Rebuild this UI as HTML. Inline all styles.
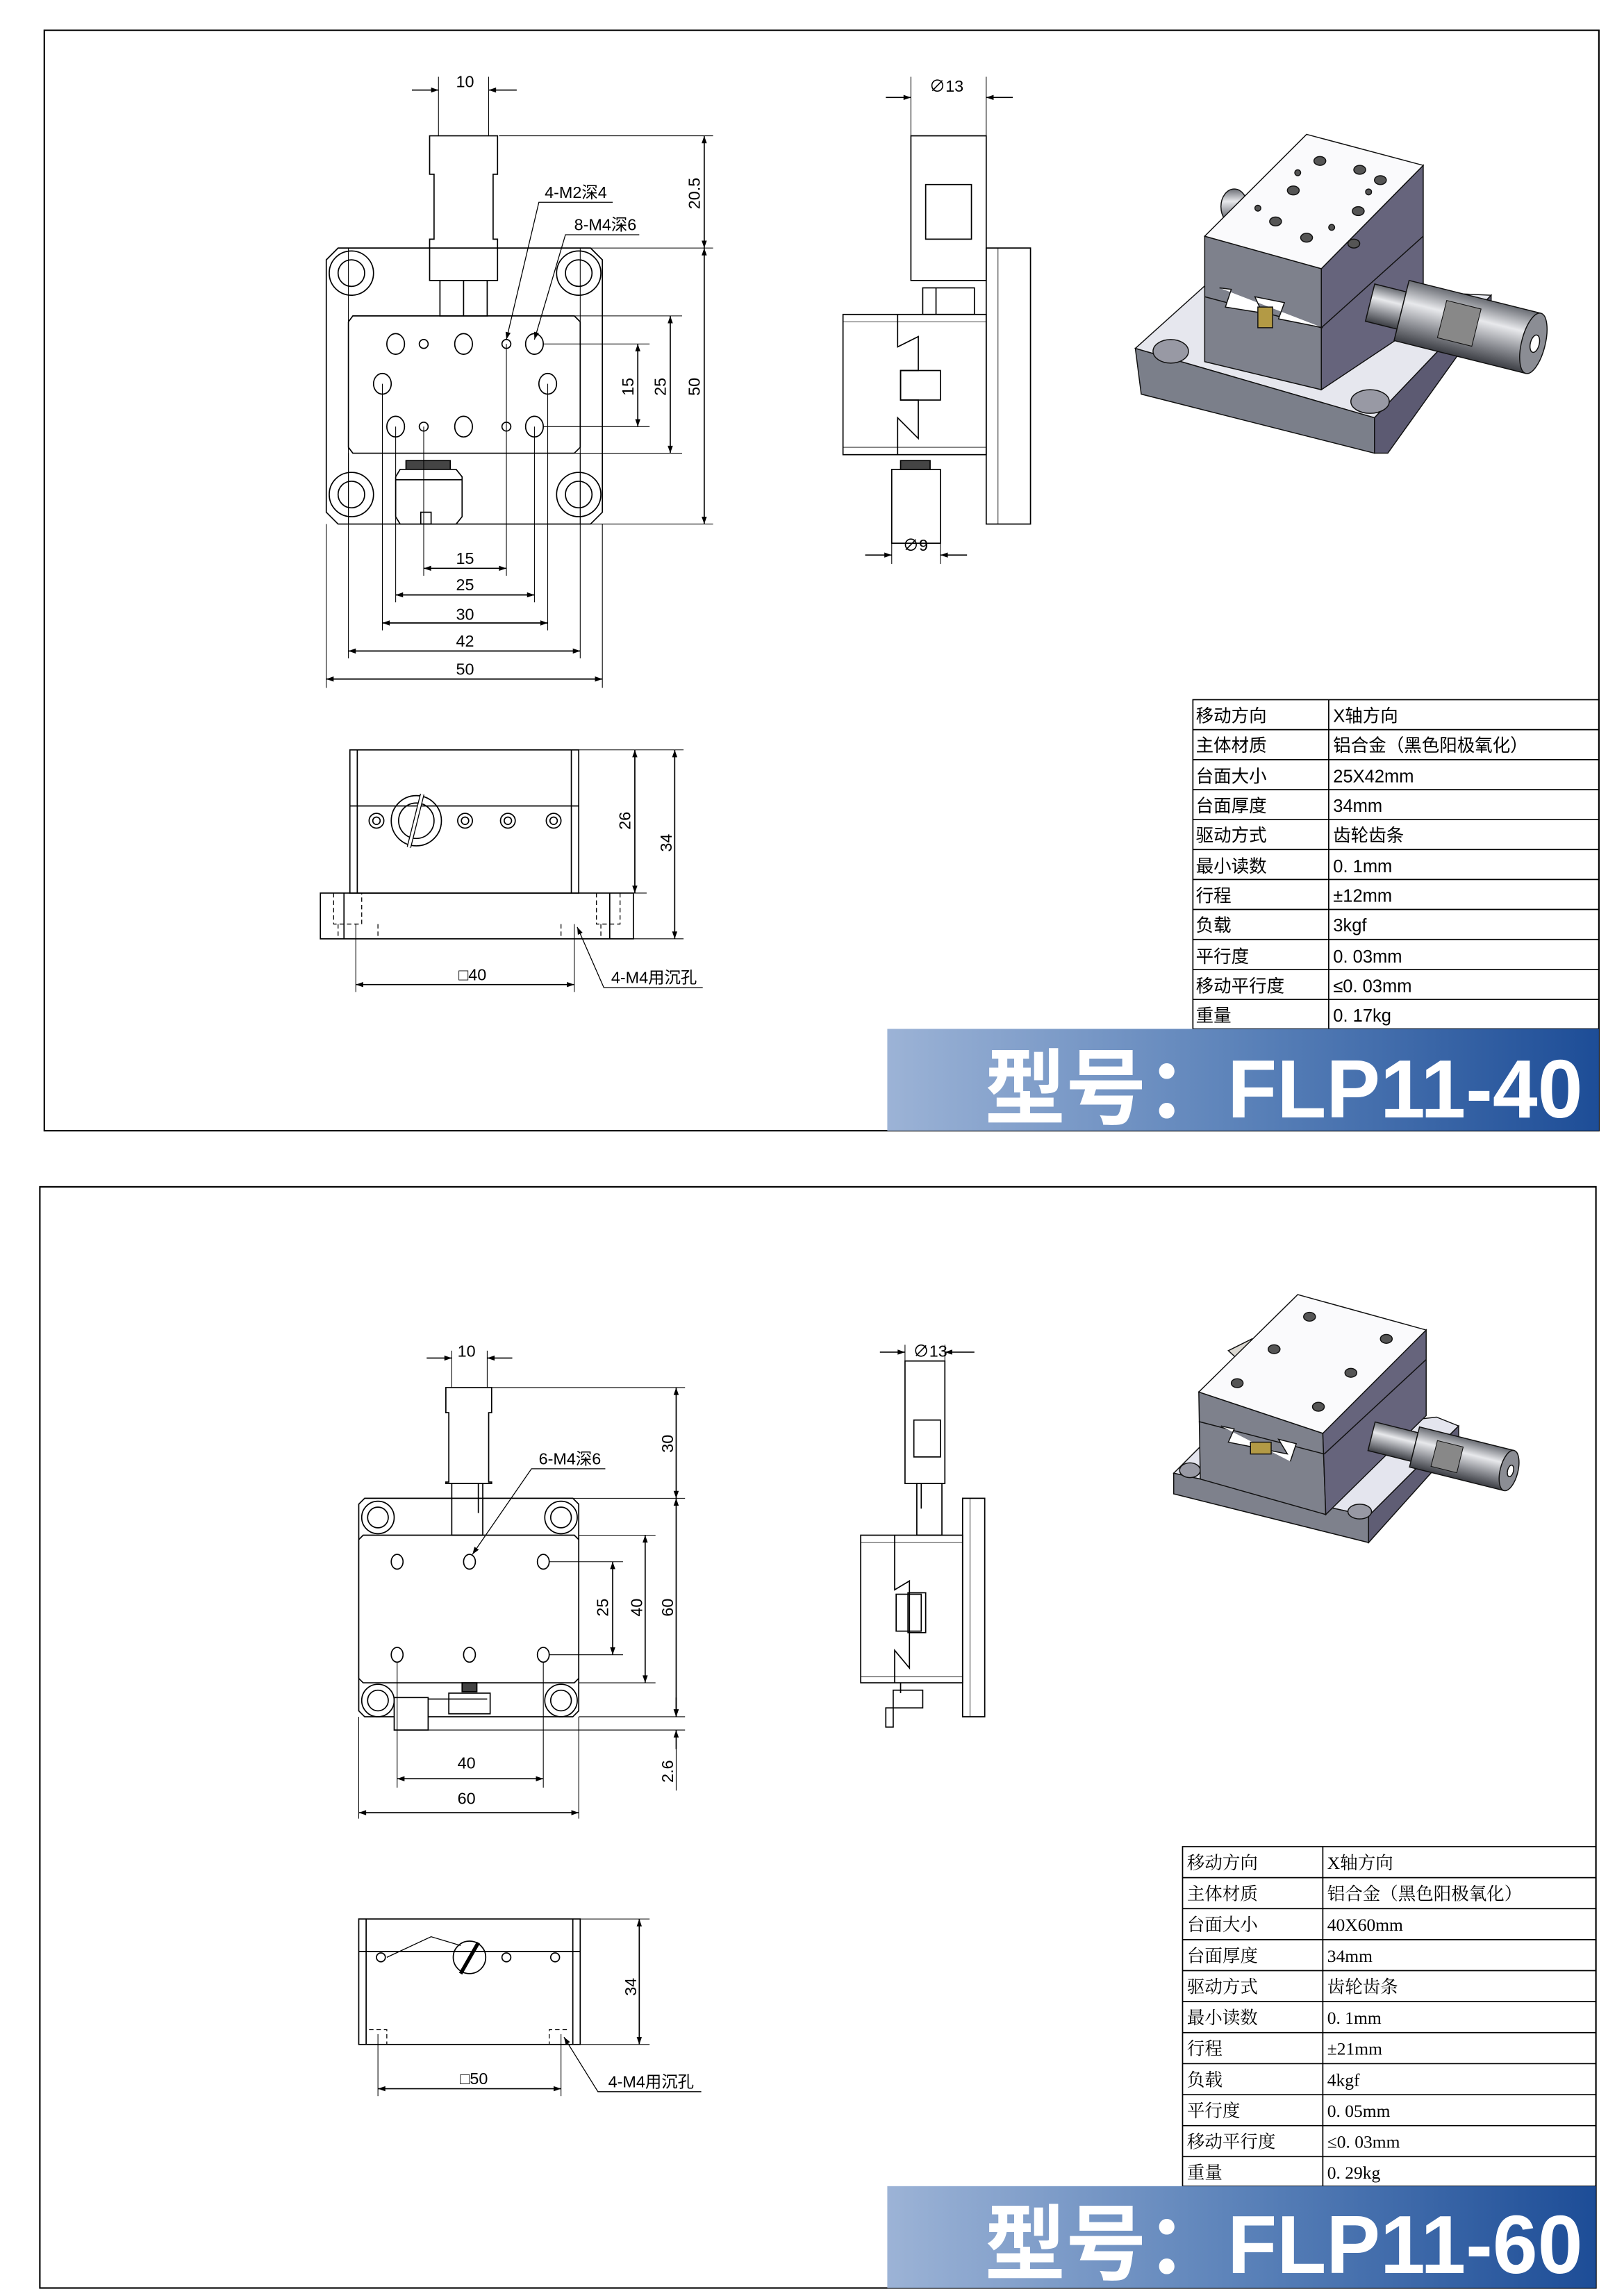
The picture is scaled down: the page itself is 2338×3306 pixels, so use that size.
<!DOCTYPE html>
<html><head><meta charset="utf-8"><style>
html,body{margin:0;padding:0;background:#fff}
svg{display:block}
text{font-family:"Liberation Sans","Noto Sans CJK SC",sans-serif}
</style></head><body>
<svg width="2338" height="3306" viewBox="0 0 1100 1555.4" xmlns="http://www.w3.org/2000/svg">
<defs>
<marker id="a" viewBox="0 0 10 10" refX="10" refY="5" markerWidth="9" markerHeight="5" orient="auto-start-reverse" markerUnits="userSpaceOnUse"><path d="M0,1.5L10,5L0,8.5z" fill="#000"/></marker>
<linearGradient id="bg" x1="0" x2="1" y1="0" y2="0"><stop offset="0" stop-color="#9cb3d6"/><stop offset="0.5" stop-color="#5b82b9"/><stop offset="1" stop-color="#1d4d97"/></linearGradient>
<linearGradient id="cyl" x1="0" x2="0" y1="0" y2="1"><stop offset="0" stop-color="#6a6d74"/><stop offset="0.35" stop-color="#e8e9ec"/><stop offset="0.7" stop-color="#8a8c92"/><stop offset="1" stop-color="#3c3e44"/></linearGradient>
</defs>
<g fill="none" stroke="#000" stroke-width="0.8">
<!-- frames -->
<rect x="30" y="20.5" width="1053" height="745.5" stroke-width="1"/>
<rect x="27" y="804" width="1054" height="746" stroke-width="1"/>

<!-- ===== FRAME 1 TOP VIEW ===== -->
<path d="M229,168H400L408,176V347L400,355H229L221,347V176Z"/>
<line x1="236" y1="168" x2="236" y2="355" stroke-width="0.5"/><line x1="393" y1="168" x2="393" y2="355" stroke-width="0.5"/>
<circle cx="238" cy="185" r="15"/><circle cx="238" cy="185" r="9"/>
<circle cx="392" cy="185" r="15"/><circle cx="392" cy="185" r="9"/>
<circle cx="238" cy="335" r="15"/><circle cx="238" cy="335" r="9"/>
<circle cx="392" cy="335" r="15"/><circle cx="392" cy="335" r="9"/>
<path d="M239,214H389L393,218V303L389,307H239L236,303V218Z" fill="#fff"/>
<path d="M291,92H337V118H334V162H337V190H291V162H294V118H291Z"/>
<rect x="298" y="190" width="32" height="24"/><line x1="314" y1="190" x2="314" y2="214"/>
<g>
<ellipse cx="268" cy="233" rx="6" ry="7"/><circle cx="287" cy="233" r="3"/><ellipse cx="314" cy="233" rx="6" ry="7"/><circle cx="343" cy="233" r="3"/><ellipse cx="362" cy="233" rx="6" ry="7"/>
<ellipse cx="259" cy="260" rx="6" ry="7"/><ellipse cx="371" cy="260" rx="6" ry="7"/>
<ellipse cx="268" cy="289" rx="6" ry="7"/><circle cx="287" cy="289" r="3"/><ellipse cx="314" cy="289" rx="6" ry="7"/><circle cx="343" cy="289" r="3"/><ellipse cx="362" cy="289" rx="6" ry="7"/>
</g>
<rect x="275" y="312" width="30" height="6" fill="#444"/>
<path d="M271,318H309L313,323V350L309,355H271L268,350V323Z" fill="#fff"/>
<line x1="268" y1="325" x2="313" y2="325"/><rect x="285" y="347" width="7" height="8"/>
<!-- dims f1 top -->
<line x1="297" y1="52" x2="297" y2="92" stroke-width="0.5"/><line x1="331" y1="52" x2="331" y2="92" stroke-width="0.5"/>
<line x1="279" y1="61" x2="297" y2="61" marker-end="url(#a)"/><line x1="350" y1="61" x2="331" y2="61" marker-end="url(#a)"/>
<line x1="338" y1="92" x2="483" y2="92" stroke-width="0.5"/><line x1="400" y1="168" x2="483" y2="168" stroke-width="0.5"/>
<line x1="389" y1="214" x2="462" y2="214" stroke-width="0.5"/><line x1="389" y1="307" x2="462" y2="307" stroke-width="0.5"/>
<line x1="368" y1="233" x2="440" y2="233" stroke-width="0.5"/><line x1="368" y1="289" x2="440" y2="289" stroke-width="0.5"/>
<line x1="400" y1="355" x2="483" y2="355" stroke-width="0.5"/>
<line x1="477" y1="92" x2="477" y2="168" marker-start="url(#a)" marker-end="url(#a)"/>
<line x1="477" y1="168" x2="477" y2="355" marker-start="url(#a)" marker-end="url(#a)"/>
<line x1="454" y1="214" x2="454" y2="307" marker-start="url(#a)" marker-end="url(#a)"/>
<line x1="432" y1="233" x2="432" y2="289" marker-start="url(#a)" marker-end="url(#a)"/>
<g stroke-width="0.5">
<line x1="287" y1="289" x2="287" y2="390"/><line x1="343" y1="233" x2="343" y2="390"/>
<line x1="268" y1="289" x2="268" y2="408"/><line x1="362" y1="289" x2="362" y2="408"/>
<line x1="259" y1="260" x2="259" y2="427"/><line x1="371" y1="260" x2="371" y2="427"/>
<line x1="236" y1="307" x2="236" y2="446"/><line x1="393" y1="307" x2="393" y2="446"/>
<line x1="221" y1="355" x2="221" y2="466"/><line x1="408" y1="355" x2="408" y2="466"/>
</g>
<line x1="287" y1="385" x2="343" y2="385" marker-start="url(#a)" marker-end="url(#a)"/>
<line x1="268" y1="403" x2="362" y2="403" marker-start="url(#a)" marker-end="url(#a)"/>
<line x1="259" y1="422" x2="371" y2="422" marker-start="url(#a)" marker-end="url(#a)"/>
<line x1="236" y1="441" x2="393" y2="441" marker-start="url(#a)" marker-end="url(#a)"/>
<line x1="221" y1="460" x2="408" y2="460" marker-start="url(#a)" marker-end="url(#a)"/>
<polyline points="415,137 365,137 343,230" stroke-width="0.6" marker-end="url(#a)"/>
<polyline points="433,159 383,159 362,230" stroke-width="0.6" marker-end="url(#a)"/>

<!-- ===== FRAME 1 SIDE VIEW ===== -->
<rect x="617" y="92" width="51" height="98"/><rect x="627" y="125" width="31" height="37"/>
<rect x="625" y="195" width="35" height="18"/><line x1="634" y1="195" x2="634" y2="213"/>
<rect x="668" y="168" width="30" height="187"/><rect x="668" y="168" width="8" height="187" stroke-width="0.4"/>
<rect x="571" y="213" width="97" height="95"/><line x1="571" y1="218" x2="668" y2="218" stroke-width="0.4"/><line x1="571" y1="303" x2="668" y2="303" stroke-width="0.4"/>
<polyline points="608,213 608,235 622,228 622,251 610,251 610,271 622,271 622,297 608,283 608,308"/>
<rect x="610" y="251" width="27" height="20"/>
<rect x="604" y="318" width="33" height="50"/><rect x="610" y="312" width="20" height="6" fill="#444"/>
<line x1="617" y1="52" x2="617" y2="92" stroke-width="0.5"/><line x1="668" y1="52" x2="668" y2="92" stroke-width="0.5"/>
<line x1="600" y1="66" x2="617" y2="66" marker-end="url(#a)"/><line x1="686" y1="66" x2="668" y2="66" marker-end="url(#a)"/>
<line x1="604" y1="368" x2="604" y2="382" stroke-width="0.5"/><line x1="637" y1="368" x2="637" y2="382" stroke-width="0.5"/>
<line x1="586" y1="376" x2="604" y2="376" marker-end="url(#a)"/><line x1="655" y1="376" x2="637" y2="376" marker-end="url(#a)"/>

<!-- ===== FRAME 1 FRONT VIEW ===== -->
<rect x="237" y="508" width="155" height="97"/><line x1="242" y1="508" x2="242" y2="605"/><line x1="387" y1="508" x2="387" y2="605"/>
<line x1="237" y1="546" x2="392" y2="546"/>
<circle cx="282" cy="556" r="17"/><circle cx="282" cy="556" r="12"/><path d="M277,574L286,538" stroke-width="3" stroke="#000"/><path d="M277,574L286,538" stroke-width="1.8" stroke="#fff"/>
<circle cx="255" cy="556" r="5"/><circle cx="255" cy="556" r="2.5"/>
<circle cx="315" cy="556" r="5"/><circle cx="315" cy="556" r="2.5"/>
<circle cx="344" cy="556" r="5"/><circle cx="344" cy="556" r="2.5"/>
<circle cx="375" cy="556" r="5"/><circle cx="375" cy="556" r="2.5"/>
<rect x="217" y="605" width="212" height="31"/><line x1="233" y1="605" x2="233" y2="636"/><line x1="413" y1="605" x2="413" y2="636"/>
<g stroke-dasharray="3,2" stroke-width="0.6"><polyline points="226,605 226,626 245,626 245,605"/><polyline points="420,605 420,626 404,626 404,605"/><polyline points="229,626 229,636"/><polyline points="256,626 256,636"/><polyline points="407,626 407,636"/><polyline points="380,626 380,636"/></g>
<line x1="392" y1="508" x2="463" y2="508" stroke-width="0.5"/><line x1="429" y1="605" x2="438" y2="605" stroke-width="0.5"/><line x1="429" y1="636" x2="463" y2="636" stroke-width="0.5"/>
<line x1="430" y1="508" x2="430" y2="605" marker-start="url(#a)" marker-end="url(#a)"/>
<line x1="457" y1="508" x2="457" y2="636" marker-start="url(#a)" marker-end="url(#a)"/>
<line x1="241" y1="626" x2="241" y2="672" stroke-width="0.5"/><line x1="389" y1="626" x2="389" y2="672" stroke-width="0.5"/>
<line x1="241" y1="667" x2="389" y2="667" marker-start="url(#a)" marker-end="url(#a)"/>
<polyline points="476,669 409,669 391,628" stroke-width="0.6" marker-end="url(#a)"/>

<!-- ===== FRAME 2 TOP VIEW ===== -->
<path d="M247,1015H388L392,1019V1159L388,1163H247L243,1159V1019Z"/>
<circle cx="256" cy="1028" r="11"/><circle cx="256" cy="1028" r="7"/>
<circle cx="380" cy="1028" r="11"/><circle cx="380" cy="1028" r="7"/>
<circle cx="256" cy="1152" r="11"/><circle cx="256" cy="1152" r="7"/>
<circle cx="380" cy="1152" r="11"/><circle cx="380" cy="1152" r="7"/>
<path d="M246,1040H389L392,1043V1137L389,1140H246L243,1137V1043Z" fill="#fff"/>
<path d="M302,940H333V957H331V1004H333V1005H302V1004H304V957H302Z"/>
<rect x="306" y="1005" width="21" height="35"/><line x1="324" y1="1005" x2="324" y2="1025"/>
<ellipse cx="269" cy="1058" rx="4" ry="5"/><ellipse cx="318" cy="1058" rx="4" ry="5"/><ellipse cx="368" cy="1058" rx="4" ry="5"/>
<ellipse cx="269" cy="1121" rx="4" ry="5"/><ellipse cx="318" cy="1121" rx="4" ry="5"/><ellipse cx="368" cy="1121" rx="4" ry="5"/>
<rect x="313" y="1140" width="10" height="6" fill="#444"/>
<rect x="304" y="1147" width="28" height="14" fill="#fff"/><line x1="268" y1="1151" x2="330" y2="1151"/>
<rect x="267" y="1150" width="23" height="22" fill="#fff"/>
<line x1="306" y1="915" x2="306" y2="940" stroke-width="0.5"/><line x1="330" y1="915" x2="330" y2="940" stroke-width="0.5"/>
<line x1="289" y1="920" x2="306" y2="920" marker-end="url(#a)"/><line x1="347" y1="920" x2="330" y2="920" marker-end="url(#a)"/>
<line x1="333" y1="940" x2="464" y2="940" stroke-width="0.5"/><line x1="330" y1="1015" x2="464" y2="1015" stroke-width="0.5"/>
<line x1="392" y1="1040" x2="444" y2="1040" stroke-width="0.5"/><line x1="392" y1="1140" x2="444" y2="1140" stroke-width="0.5"/>
<line x1="372" y1="1058" x2="422" y2="1058" stroke-width="0.5"/><line x1="372" y1="1121" x2="422" y2="1121" stroke-width="0.5"/>
<line x1="392" y1="1163" x2="464" y2="1163" stroke-width="0.5"/><line x1="290" y1="1172" x2="464" y2="1172" stroke-width="0.5"/>
<line x1="458" y1="940" x2="458" y2="1015" marker-start="url(#a)" marker-end="url(#a)"/>
<line x1="458" y1="1015" x2="458" y2="1163" marker-start="url(#a)" marker-end="url(#a)"/>
<line x1="437" y1="1040" x2="437" y2="1140" marker-start="url(#a)" marker-end="url(#a)"/>
<line x1="415" y1="1058" x2="415" y2="1121" marker-start="url(#a)" marker-end="url(#a)"/>
<line x1="458" y1="1150" x2="458" y2="1163" marker-end="url(#a)"/><line x1="458" y1="1185" x2="458" y2="1172" marker-end="url(#a)"/><line x1="458" y1="1185" x2="458" y2="1213" stroke-width="0.5"/>
<line x1="269" y1="1126" x2="269" y2="1211" stroke-width="0.5"/><line x1="368" y1="1126" x2="368" y2="1211" stroke-width="0.5"/>
<line x1="243" y1="1163" x2="243" y2="1232" stroke-width="0.5"/><line x1="392" y1="1163" x2="392" y2="1232" stroke-width="0.5"/>
<line x1="269" y1="1205" x2="368" y2="1205" marker-start="url(#a)" marker-end="url(#a)"/>
<line x1="243" y1="1228" x2="392" y2="1228" marker-start="url(#a)" marker-end="url(#a)"/>
<polyline points="410,995 360,995 320,1053" stroke-width="0.6" marker-end="url(#a)"/>

<!-- ===== FRAME 2 SIDE VIEW ===== -->
<rect x="613" y="922" width="27" height="83"/><rect x="619" y="962" width="18" height="25"/>
<rect x="621" y="1005" width="17" height="35"/><line x1="624" y1="1005" x2="624" y2="1022"/>
<rect x="652" y="1015" width="15" height="148"/><line x1="657" y1="1015" x2="657" y2="1163" stroke-width="0.4"/>
<rect x="583" y="1040" width="69" height="100"/><line x1="583" y1="1045" x2="652" y2="1045" stroke-width="0.4"/><line x1="583" y1="1136" x2="652" y2="1136" stroke-width="0.4"/>
<polyline points="606,1040 606,1077 616,1071 616,1130 606,1118 606,1140"/>
<rect x="607" y="1080" width="17" height="25"/><rect x="615" y="1079" width="12" height="27"/>
<rect x="605" y="1145" width="20" height="12"/><line x1="610" y1="1140" x2="610" y2="1147"/><rect x="600" y="1157" width="5" height="13"/>
<line x1="613" y1="911" x2="613" y2="922" stroke-width="0.5"/><line x1="640" y1="911" x2="640" y2="922" stroke-width="0.5"/>
<line x1="596" y1="916" x2="613" y2="916" marker-end="url(#a)"/><line x1="660" y1="916" x2="640" y2="916" marker-end="url(#a)"/>

<!-- ===== FRAME 2 FRONT VIEW ===== -->
<rect x="243" y="1300" width="150" height="85"/><line x1="248" y1="1300" x2="248" y2="1385"/><line x1="388" y1="1300" x2="388" y2="1385"/>
<line x1="243" y1="1322" x2="393" y2="1322"/>
<circle cx="318" cy="1326" r="11"/><path d="M312,1337L324,1316" stroke-width="2.5"/><path d="M262,1326L292,1312L312,1318" stroke-width="0.6"/>
<circle cx="258" cy="1326" r="3"/><circle cx="343" cy="1326" r="3"/><circle cx="376" cy="1326" r="3"/>
<g stroke-dasharray="3,2" stroke-width="0.6"><polyline points="250,1375 262,1375 262,1385"/><polyline points="384,1375 372,1375 372,1385"/></g>
<line x1="393" y1="1300" x2="440" y2="1300" stroke-width="0.5"/><line x1="393" y1="1385" x2="440" y2="1385" stroke-width="0.5"/>
<line x1="433" y1="1300" x2="433" y2="1385" marker-start="url(#a)" marker-end="url(#a)"/>
<line x1="256" y1="1378" x2="256" y2="1420" stroke-width="0.5"/><line x1="380" y1="1378" x2="380" y2="1420" stroke-width="0.5"/>
<line x1="256" y1="1415" x2="380" y2="1415" marker-start="url(#a)" marker-end="url(#a)"/>
<polyline points="475,1417 405,1417 382,1380" stroke-width="0.6" marker-end="url(#a)"/>
</g>

<!-- dims text -->
<g font-size="11" fill="#000" text-anchor="middle">
<text x="315" y="59">10</text>
<text x="315" y="382">15</text><text x="315" y="400">25</text><text x="315" y="420">30</text><text x="315" y="438">42</text><text x="315" y="457">50</text>
<text transform="translate(474,131) rotate(-90)">20.5</text>
<text transform="translate(474,262) rotate(-90)">50</text>
<text transform="translate(451,262) rotate(-90)">25</text>
<text transform="translate(429,262) rotate(-90)">15</text>
<text x="390" y="134">4-M2深4</text><text x="410" y="156">8-M4深6</text>
<text x="641" y="62">∅13</text><text x="620" y="373">∅9</text>
<text transform="translate(427,556) rotate(-90)">26</text>
<text transform="translate(455,571) rotate(-90)">34</text>
<text x="320" y="664">□40</text><text x="443" y="666">4-M4用沉孔</text>
<text x="316" y="919">10</text>
<text transform="translate(456,978) rotate(-90)">30</text>
<text transform="translate(456,1089) rotate(-90)">60</text>
<text transform="translate(435,1089) rotate(-90)">40</text>
<text transform="translate(412,1089) rotate(-90)">25</text>
<text transform="translate(456,1200) rotate(-90)">2.6</text>
<text x="386" y="992">6-M4深6</text>
<text x="316" y="1198">40</text><text x="316" y="1222">60</text>
<text x="630" y="919">∅13</text>
<text transform="translate(431,1346) rotate(-90)">34</text>
<text x="321" y="1412">□50</text><text x="441" y="1414">4-M4用沉孔</text>
</g>

<!-- ===== 3D frame 1 ===== -->
<g stroke="#111" stroke-width="0.7">
<polygon points="769,236 819,191 1010,200 931,283" fill="#e6e7ee"/>
<polygon points="769,236 931,283 931,307 773,267" fill="#7b7f8a"/>
<polygon points="931,283 1010,200 1010,209 940,307 931,307" fill="#5c5a72"/>
<ellipse cx="793" cy="238" rx="12" ry="8" fill="#9899a4"/><ellipse cx="928" cy="272" rx="13" ry="8" fill="#9899a4"/>
<ellipse cx="836" cy="140" rx="9" ry="12" fill="url(#cyl)"/>
<polygon points="816,160 895,182 895,264 816,245" fill="#7e818c"/>
<polygon points="895,182 964,112 964,218 895,264" fill="#66647c"/>
<polygon points="885,91 964,112 895,182 816,160" fill="#fafafc"/>
<line x1="816" y1="201" x2="895" y2="222"/><line x1="895" y1="222" x2="964" y2="160"/>
<polyline points="826,195 834,196 830,208 855,212 850,201 870,205 866,216 896,222" fill="#fff"/>
<rect x="852" y="208" width="10" height="14" fill="#b39a45"/>
<g fill="#555"><ellipse cx="894" cy="109" rx="4" ry="3"/><ellipse cx="921" cy="115" rx="4" ry="3"/><ellipse cx="935" cy="122" rx="4" ry="3"/><ellipse cx="876" cy="129" rx="4" ry="3"/><ellipse cx="920" cy="143" rx="4" ry="3"/><ellipse cx="864" cy="150" rx="4" ry="3"/><ellipse cx="885" cy="161" rx="4" ry="3"/><ellipse cx="917" cy="165" rx="4" ry="3"/><circle cx="879" cy="117" r="2"/><circle cx="927" cy="130" r="2"/><circle cx="852" cy="141" r="2"/><circle cx="902" cy="154" r="2"/></g>
<g transform="translate(928,205) rotate(14)">
<rect x="0" y="-13" width="22" height="26" fill="url(#cyl)"/>
<rect x="22" y="-21" width="92" height="42" fill="url(#cyl)"/>
<rect x="50" y="-14" width="24" height="26" fill="#888" stroke-width="0.5"/>
<ellipse cx="114" cy="0" rx="8" ry="21" fill="#8b8d94"/><ellipse cx="115" cy="0" rx="3" ry="6" fill="#fff"/>
</g>
</g>

<!-- ===== 3D frame 2 ===== -->
<g stroke="#111" stroke-width="0.7">
<polygon points="795,998 815,978 973,960 988,966 927,1027" fill="#e4e5ee"/>
<polygon points="795,998 927,1027 927,1045 795,1012" fill="#7e818c"/>
<polygon points="927,1027 988,966 988,977 927,1045" fill="#5f5d74"/>
<ellipse cx="806" cy="996" rx="7" ry="5" fill="#9899a4"/><ellipse cx="921" cy="1024" rx="8" ry="5" fill="#9899a4"/>
<polygon points="832,915 848,907 856,912 843,925" fill="#dcd9d2"/>
<polygon points="812,943 896,971 898,1026 813,1002" fill="#7e818c"/>
<polygon points="896,971 966,901 966,959 898,1026" fill="#66647c"/>
<polygon points="879,877 966,901 896,971 812,943" fill="#fafafc"/>
<line x1="812" y1="963" x2="897" y2="985"/><line x1="897" y1="985" x2="966" y2="921"/>
<polyline points="827,966 836,968 832,977 872,985 866,975 878,978 874,990" fill="#fff"/>
<rect x="847" y="977" width="14" height="8" fill="#b39a45"/>
<g fill="#555"><ellipse cx="887" cy="892" rx="4" ry="3"/><ellipse cx="939" cy="907" rx="4" ry="3"/><ellipse cx="863" cy="914" rx="4" ry="3"/><ellipse cx="915" cy="930" rx="4" ry="3"/><ellipse cx="838" cy="937" rx="4" ry="3"/><ellipse cx="893" cy="953" rx="4" ry="3"/></g>
<g transform="translate(929,973) rotate(14)">
<rect x="0" y="-10" width="30" height="20" fill="url(#cyl)"/>
<rect x="30" y="-14" width="66" height="28" fill="url(#cyl)"/>
<rect x="44" y="-8" width="18" height="18" fill="#888" stroke-width="0.5"/>
<ellipse cx="96" cy="0" rx="6" ry="14" fill="#8b8d94"/><ellipse cx="97" cy="0" rx="2" ry="4" fill="#fff"/>
</g>
</g>

<!-- ===== TABLES ===== -->
<g stroke="#000" stroke-width="0.8" fill="none">
<rect x="808" y="474" width="275" height="223"/>
<line x1="900" y1="474" x2="900" y2="697"/>
<line x1="808" y1="494.3" x2="1083" y2="494.3"/><line x1="808" y1="514.6" x2="1083" y2="514.6"/><line x1="808" y1="534.9" x2="1083" y2="534.9"/><line x1="808" y1="555.2" x2="1083" y2="555.2"/><line x1="808" y1="575.5" x2="1083" y2="575.5"/><line x1="808" y1="595.8" x2="1083" y2="595.8"/><line x1="808" y1="616.1" x2="1083" y2="616.1"/><line x1="808" y1="636.4" x2="1083" y2="636.4"/><line x1="808" y1="656.7" x2="1083" y2="656.7"/><line x1="808" y1="677" x2="1083" y2="677"/>
<rect x="801" y="1251" width="280" height="230"/>
<line x1="896" y1="1251" x2="896" y2="1481"/>
<line x1="801" y1="1272" x2="1081" y2="1272"/><line x1="801" y1="1293" x2="1081" y2="1293"/><line x1="801" y1="1314" x2="1081" y2="1314"/><line x1="801" y1="1335" x2="1081" y2="1335"/><line x1="801" y1="1356" x2="1081" y2="1356"/><line x1="801" y1="1377" x2="1081" y2="1377"/><line x1="801" y1="1398" x2="1081" y2="1398"/><line x1="801" y1="1419" x2="1081" y2="1419"/><line x1="801" y1="1440" x2="1081" y2="1440"/><line x1="801" y1="1461" x2="1081" y2="1461"/>
</g>
<g font-size="12" fill="#000">
<text x="810" y="489">移动方向</text><text x="903" y="489">X轴方向</text>
<text x="810" y="509">主体材质</text><text x="903" y="509">铝合金（黑色阳极氧化）</text>
<text x="810" y="530">台面大小</text><text x="903" y="530">25X42mm</text>
<text x="810" y="550">台面厚度</text><text x="903" y="550">34mm</text>
<text x="810" y="570">驱动方式</text><text x="903" y="570">齿轮齿条</text>
<text x="810" y="591">最小读数</text><text x="903" y="591">0. 1mm</text>
<text x="810" y="611">行程</text><text x="903" y="611">±12mm</text>
<text x="810" y="631">负载</text><text x="903" y="631">3kgf</text>
<text x="810" y="652">平行度</text><text x="903" y="652">0. 03mm</text>
<text x="810" y="672">移动平行度</text><text x="903" y="672">≤0. 03mm</text>
<text x="810" y="692">重量</text><text x="903" y="692">0. 17kg</text>
</g>
<g font-size="12" fill="#000" font-family="'Liberation Serif','Noto Serif CJK SC',serif">
<text x="804" y="1266" style="font-family:'Liberation Serif','Noto Serif CJK SC',serif">移动方向</text><text x="899" y="1266" style="font-family:'Liberation Serif','Noto Serif CJK SC',serif">X轴方向</text>
<text x="804" y="1287" style="font-family:'Liberation Serif','Noto Serif CJK SC',serif">主体材质</text><text x="899" y="1287" style="font-family:'Liberation Serif','Noto Serif CJK SC',serif">铝合金（黑色阳极氧化）</text>
<text x="804" y="1308" style="font-family:'Liberation Serif','Noto Serif CJK SC',serif">台面大小</text><text x="899" y="1308" style="font-family:'Liberation Serif','Noto Serif CJK SC',serif">40X60mm</text>
<text x="804" y="1329" style="font-family:'Liberation Serif','Noto Serif CJK SC',serif">台面厚度</text><text x="899" y="1329" style="font-family:'Liberation Serif','Noto Serif CJK SC',serif">34mm</text>
<text x="804" y="1350" style="font-family:'Liberation Serif','Noto Serif CJK SC',serif">驱动方式</text><text x="899" y="1350" style="font-family:'Liberation Serif','Noto Serif CJK SC',serif">齿轮齿条</text>
<text x="804" y="1371" style="font-family:'Liberation Serif','Noto Serif CJK SC',serif">最小读数</text><text x="899" y="1371" style="font-family:'Liberation Serif','Noto Serif CJK SC',serif">0. 1mm</text>
<text x="804" y="1392" style="font-family:'Liberation Serif','Noto Serif CJK SC',serif">行程</text><text x="899" y="1392" style="font-family:'Liberation Serif','Noto Serif CJK SC',serif">±21mm</text>
<text x="804" y="1413" style="font-family:'Liberation Serif','Noto Serif CJK SC',serif">负载</text><text x="899" y="1413" style="font-family:'Liberation Serif','Noto Serif CJK SC',serif">4kgf</text>
<text x="804" y="1434" style="font-family:'Liberation Serif','Noto Serif CJK SC',serif">平行度</text><text x="899" y="1434" style="font-family:'Liberation Serif','Noto Serif CJK SC',serif">0. 05mm</text>
<text x="804" y="1455" style="font-family:'Liberation Serif','Noto Serif CJK SC',serif">移动平行度</text><text x="899" y="1455" style="font-family:'Liberation Serif','Noto Serif CJK SC',serif">≤0. 03mm</text>
<text x="804" y="1476" style="font-family:'Liberation Serif','Noto Serif CJK SC',serif">重量</text><text x="899" y="1476" style="font-family:'Liberation Serif','Noto Serif CJK SC',serif">0. 29kg</text>
</g>

<!-- banners -->
<rect x="601" y="697" width="482" height="69" fill="url(#bg)"/>
<rect x="601" y="1481" width="480" height="69" fill="url(#bg)"/>
<g fill="#fff" font-weight="bold" font-size="56">
<text x="667" y="757" textLength="405" lengthAdjust="spacingAndGlyphs">型号：FLP11-40</text>
<text x="667" y="1540" textLength="405" lengthAdjust="spacingAndGlyphs">型号：FLP11-60</text>
</g>
</svg>
</body></html>
